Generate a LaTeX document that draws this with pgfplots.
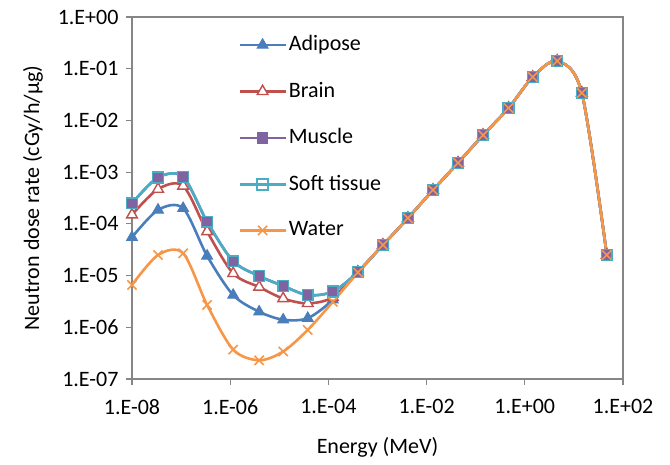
\documentclass[border=0pt]{standalone}
\usepackage{fontspec}
\setmainfont{Carlito}
\usepackage{pgfplots}
\usepackage{pgfplotstable}
\pgfplotsset{compat=1.18}

\definecolor{adip}{HTML}{4A7EBB}
\definecolor{brain}{HTML}{C0504D}
\definecolor{musc}{HTML}{8064A2}
\definecolor{soft}{HTML}{4BACC6}
\definecolor{water}{HTML}{F79646}
\definecolor{axgray}{HTML}{868686}

% energy (MeV) and dose rate for each tissue
\pgfplotstableread{
E        adip     brain    musc     soft     water
1.00e-8  5.5e-5   1.5e-4   2.5e-4   2.5e-4   6.6e-6
3.39e-8  1.86e-4  4.7e-4   7.9e-4   7.9e-4   2.5e-5
1.10e-7  2.0e-4   5.4e-4   8.1e-4   8.1e-4   2.7e-5
3.39e-7  2.4e-5   7.1e-5   1.1e-4   1.1e-4   2.7e-6
1.15e-6  4.2e-6   1.1e-5   1.9e-5   1.9e-5   3.7e-7
3.89e-6  2.0e-6   6.0e-6   9.8e-6   9.8e-6   2.3e-7
1.20e-5  1.4e-6   3.6e-6   6.3e-6   6.3e-6   3.4e-7
3.80e-5  1.5e-6   2.9e-6   4.2e-6   4.2e-6   8.9e-7
1.23e-4  3.4e-6   3.8e-6   4.9e-6   4.9e-6   3.1e-6
3.98e-4  1.17e-5  1.17e-5  1.17e-5  1.17e-5  1.15e-5
1.29e-3  3.9e-5   3.9e-5   3.9e-5   3.9e-5   3.9e-5
4.17e-3  1.29e-4  1.29e-4  1.29e-4  1.29e-4  1.29e-4
1.35e-2  4.5e-4   4.5e-4   4.5e-4   4.5e-4   4.5e-4
4.37e-2  1.51e-3  1.51e-3  1.51e-3  1.51e-3  1.51e-3
0.141    5.2e-3   5.2e-3   5.2e-3   5.2e-3   5.2e-3
0.468    1.74e-2  1.74e-2  1.74e-2  1.74e-2  1.74e-2
1.45     6.9e-2   6.9e-2   6.9e-2   6.9e-2   6.9e-2
4.57     0.141    0.141    0.141    0.141    0.141
14.5     3.4e-2   3.4e-2   3.4e-2   3.4e-2   3.4e-2
46.8     2.5e-5   2.5e-5   2.5e-5   2.5e-5   2.5e-5
}\dosedata

\begin{document}
\fontsize{22bp}{26bp}\selectfont
\begin{tikzpicture}
\begin{axis}[
    name=ax,
    scale only axis,
    width=491bp, height=362bp,
    xmode=log, ymode=log,
    xmin=1e-8, xmax=100,
    ymin=1e-7, ymax=1,
    xtick={1e-8,1e-6,1e-4,1e-2,1,100},
    xticklabels={1.E-08,1.E-06,1.E-04,1.E-02,1.E+00,1.E+02},
    ytick={1e-7,1e-6,1e-5,1e-4,1e-3,1e-2,1e-1,1},
    yticklabels={1.E-07,1.E-06,1.E-05,1.E-04,1.E-03,1.E-02,1.E-01,1.E+00},
    minor tick length=0pt,
    tick pos=left,
    tick align=outside,
    major tick length=6bp,
    axis line style={draw=axgray, line width=1.2bp},
    tick style={draw=axgray, line width=1.2bp},
    ticklabel style={font=\fontsize{22bp}{26bp}\selectfont, text=black},
    xticklabel style={yshift=-7bp},
    xlabel={Energy (MeV)},
    xlabel style={yshift=-8bp},
    ylabel={Neutron dose rate (cGy/h/µg)},
    label style={font=\fontsize{22bp}{26bp}\selectfont},
    legend style={draw=none, fill=none, at={(0.21,0.96)}, anchor=north west,
        row sep=24bp, font=\fontsize{22bp}{26bp}\selectfont},
    legend cell align=left,
    legend image code/.code={\draw[mark repeat=2,mark phase=2]
        plot coordinates {(0bp,0bp) (23bp,0bp) (46bp,0bp)};},
    every axis plot/.append style={line width=2.6bp, smooth, tension=0.5},
]
\addplot[adip, mark=triangle*, mark size=6.2bp, mark options={solid, fill=adip, line width=1bp}]
    table[x=E, y=adip] {\dosedata};
\addlegendentry{Adipose}
\addplot[brain, mark=triangle*, mark size=6.2bp, mark options={solid, fill=white, line width=1.4bp}]
    table[x=E, y=brain] {\dosedata};
\addlegendentry{Brain}
\addplot[musc, mark=square*, mark size=5.4bp, mark options={solid, fill=musc, line width=1bp}]
    table[x=E, y=musc] {\dosedata};
\addlegendentry{Muscle}
\addplot[soft, mark=square, mark size=5.4bp, mark options={solid, line width=1.5bp}]
    table[x=E, y=soft] {\dosedata};
\addlegendentry{Soft tissue}
\addplot[water, mark=x, mark size=6.5bp, mark options={solid, line width=1.6bp}]
    table[x=E, y=water] {\dosedata};
\addlegendentry{Water}
\end{axis}
\path (ax.south west) ++(-132bp,-81bp) coordinate (bl);
\path (ax.north east) ++(47bp,17bp) coordinate (tr);
\path (bl) rectangle (tr);
\end{tikzpicture}
\end{document}
